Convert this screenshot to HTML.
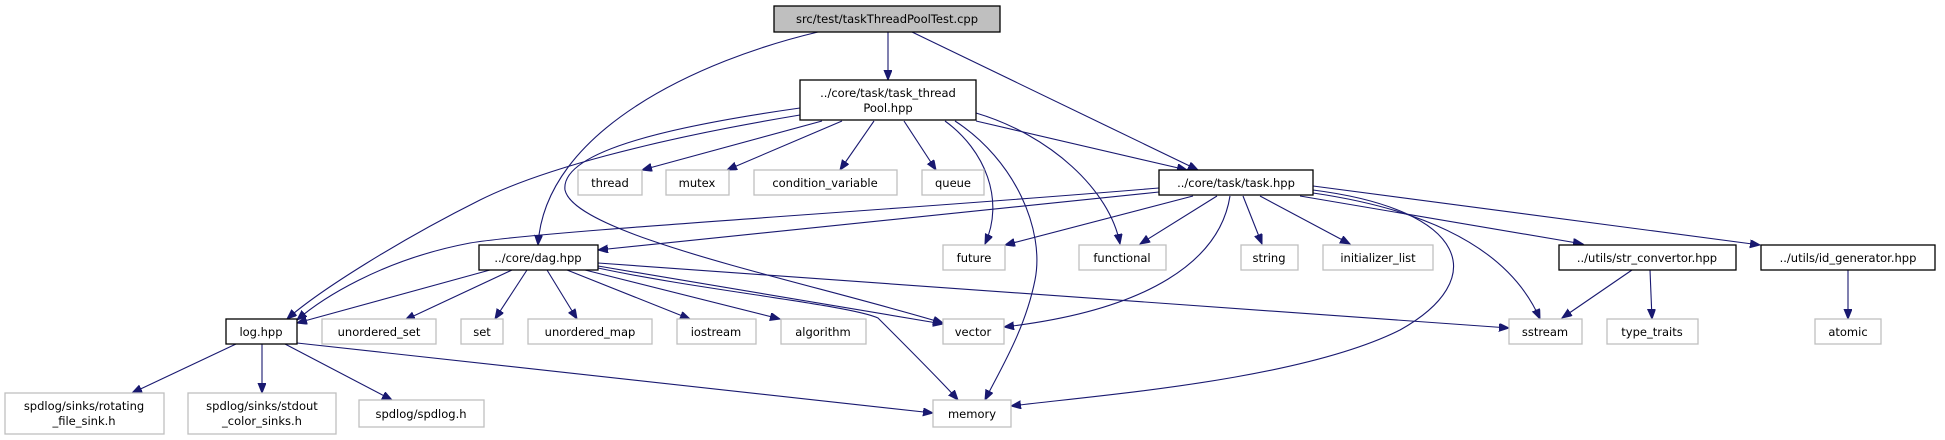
<!DOCTYPE html>
<html><head><meta charset="utf-8"><style>
html,body{margin:0;padding:0;background:#fff;}
svg{display:block;}
text{font-family:"DejaVu Sans","Liberation Sans",sans-serif;font-size:11.5px;fill:#000;}
.e{fill:none;stroke:#191970;stroke-width:1.1;marker-end:url(#a);}
.n{fill:#fff;stroke:#000;stroke-width:1.3;}
.g{fill:#fff;stroke:#bfbfbf;stroke-width:1.3;}
</style></head><body>
<svg width="1945" height="440" viewBox="0 0 1945 440" xmlns="http://www.w3.org/2000/svg">
<defs><marker id="a" markerUnits="userSpaceOnUse" markerWidth="12" markerHeight="10" refX="10" refY="4" orient="auto"><path d="M0,0 L10,4 L0,8 Z" fill="#191970" stroke="#191970"/></marker></defs>
<!-- edges -->
<path class="e" d="M888,32 L888,80"/>
<path class="e" d="M912,32 L1198,170"/>
<path class="e" d="M818,32 C700,60 545,130 538,245"/>
<path class="e" d="M822,121 L642,170"/>
<path class="e" d="M842,121 L727,170"/>
<path class="e" d="M874,121 L840,170"/>
<path class="e" d="M904,121 L936,170"/>
<path class="e" d="M945,121 C985,150 1005,200 985,244"/>
<path class="e" d="M955,121 C1015,160 1045,230 1035,280 C1025,330 1000,370 985,400"/>
<path class="e" d="M976,113 C1050,135 1110,190 1120,244"/>
<path class="e" d="M976,121 L1187,170"/>
<path class="e" d="M800,115 C650,140 540,170 480,200 C400,240 320,290 287,319"/>
<path class="e" d="M800,108 C680,125 560,150 565,190 C575,235 800,280 943,323"/>
<path class="e" d="M1159,192 L598,250"/>
<path class="e" d="M1159,188 C900,210 550,230 470,243 C380,260 320,300 297,320"/>
<path class="e" d="M1193,196 L1005,245"/>
<path class="e" d="M1217,196 L1140,244"/>
<path class="e" d="M1230,196 C1220,260 1150,310 1004,327"/>
<path class="e" d="M1243,196 L1262,244"/>
<path class="e" d="M1260,196 L1350,244"/>
<path class="e" d="M1313,190 C1470,210 1490,280 1400,330 C1300,380 1100,395 1011,406"/>
<path class="e" d="M1313,193 C1430,210 1510,250 1540,319"/>
<path class="e" d="M1300,196 L1583,244"/>
<path class="e" d="M1313,186 L1760,245"/>
<path class="e" d="M490,270 L297,323"/>
<path class="e" d="M512,270 L405,320"/>
<path class="e" d="M527,270 L495,319"/>
<path class="e" d="M547,270 L577,319"/>
<path class="e" d="M567,270 L690,319"/>
<path class="e" d="M585,270 L780,319"/>
<path class="e" d="M598,266 L943,324"/>
<path class="e" d="M598,268 C700,290 850,305 878,318 C900,340 945,385 958,400"/>
<path class="e" d="M598,263 L1509,328"/>
<path class="e" d="M236,344 L132,393"/>
<path class="e" d="M262,344 L262,393"/>
<path class="e" d="M285,344 L392,400"/>
<path class="e" d="M297,343 L933,413"/>
<path class="e" d="M1632,270 L1562,318"/>
<path class="e" d="M1650,270 L1652,319"/>
<path class="e" d="M1848,270 L1848,319"/>
<!-- nodes -->
<rect x="774" y="6" width="226" height="26" fill="#bfbfbf" stroke="#000" stroke-width="1.3"/>
<text x="887" y="23" text-anchor="middle">src/test/taskThreadPoolTest.cpp</text>
<rect class="n" x="800" y="80" width="176" height="40"/>
<text x="888" y="97" text-anchor="middle">../core/task/task_thread</text>
<text x="888" y="112" text-anchor="middle">Pool.hpp</text>
<rect class="g" x="578" y="170" width="64" height="25"/><text x="610" y="187" text-anchor="middle">thread</text>
<rect class="g" x="666" y="170" width="63" height="25"/><text x="697" y="187" text-anchor="middle">mutex</text>
<rect class="g" x="754" y="170" width="143" height="25"/><text x="825" y="187" text-anchor="middle">condition_variable</text>
<rect class="g" x="922" y="170" width="62" height="25"/><text x="953" y="187" text-anchor="middle">queue</text>
<rect class="n" x="1159" y="170" width="154" height="25"/><text x="1236" y="187" text-anchor="middle">../core/task/task.hpp</text>
<rect class="n" x="479" y="245" width="119" height="25"/><text x="538" y="262" text-anchor="middle">../core/dag.hpp</text>
<rect class="g" x="943" y="245" width="62" height="25"/><text x="974" y="262" text-anchor="middle">future</text>
<rect class="g" x="1079" y="245" width="87" height="25"/><text x="1122" y="262" text-anchor="middle">functional</text>
<rect class="g" x="1241" y="245" width="57" height="25"/><text x="1269" y="262" text-anchor="middle">string</text>
<rect class="g" x="1323" y="245" width="110" height="25"/><text x="1378" y="262" text-anchor="middle">initializer_list</text>
<rect class="n" x="1559" y="245" width="177" height="25"/><text x="1647" y="262" text-anchor="middle">../utils/str_convertor.hpp</text>
<rect class="n" x="1761" y="245" width="174" height="25"/><text x="1848" y="262" text-anchor="middle">../utils/id_generator.hpp</text>
<rect class="n" x="226" y="319" width="71" height="25"/><text x="261" y="336" text-anchor="middle">log.hpp</text>
<rect class="g" x="322" y="319" width="114" height="25"/><text x="379" y="336" text-anchor="middle">unordered_set</text>
<rect class="g" x="461" y="319" width="42" height="25"/><text x="482" y="336" text-anchor="middle">set</text>
<rect class="g" x="528" y="319" width="124" height="25"/><text x="590" y="336" text-anchor="middle">unordered_map</text>
<rect class="g" x="677" y="319" width="79" height="25"/><text x="716" y="336" text-anchor="middle">iostream</text>
<rect class="g" x="781" y="319" width="85" height="25"/><text x="823" y="336" text-anchor="middle">algorithm</text>
<rect class="g" x="943" y="319" width="61" height="25"/><text x="973" y="336" text-anchor="middle">vector</text>
<rect class="g" x="1509" y="319" width="73" height="25"/><text x="1545" y="336" text-anchor="middle">sstream</text>
<rect class="g" x="1607" y="319" width="91" height="25"/><text x="1652" y="336" text-anchor="middle">type_traits</text>
<rect class="g" x="1815" y="319" width="66" height="25"/><text x="1848" y="336" text-anchor="middle">atomic</text>
<rect class="g" x="5" y="393" width="159" height="41"/><text x="84" y="410" text-anchor="middle">spdlog/sinks/rotating</text><text x="84" y="425" text-anchor="middle">_file_sink.h</text>
<rect class="g" x="188" y="393" width="148" height="41"/><text x="262" y="410" text-anchor="middle">spdlog/sinks/stdout</text><text x="262" y="425" text-anchor="middle">_color_sinks.h</text>
<rect class="g" x="359" y="400" width="125" height="27"/><text x="421" y="418" text-anchor="middle">spdlog/spdlog.h</text>
<rect class="g" x="933" y="400" width="78" height="27"/><text x="972" y="418" text-anchor="middle">memory</text>
</svg>
</body></html>
